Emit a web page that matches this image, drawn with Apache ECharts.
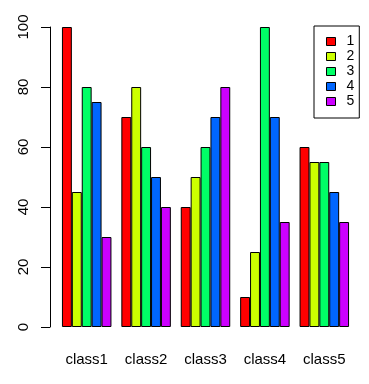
<!DOCTYPE html>
<html>
<head>
<meta charset="utf-8">
<script src="https://cdn.jsdelivr.net/npm/echarts@6/dist/echarts.min.js"></script>
<style>html,body{margin:0;padding:0;background:#fff;}#c{width:369px;height:384px;}</style>
</head>
<body>
<div id="c"></div>
<script>
var categories = ['class1', 'class2', 'class3', 'class4', 'class5'];
var seriesNames = ['1', '2', '3', '4', '5'];
var s1 = [100, 70, 40, 10, 60];
var s2 = [45, 80, 50, 25, 55];
var s3 = [80, 60, 60, 100, 55];
var s4 = [75, 50, 70, 70, 45];
var s5 = [30, 40, 80, 35, 35];
var colors = ['#FF0000', '#CCFF00', '#00FF66', '#0066FF', '#CC00FF'];
var yTicks = [0, 20, 40, 60, 80, 100];

var allData = [s1, s2, s3, s4, s5];
var font = '"Liberation Sans", Arial, sans-serif';
var chart = echarts.init(document.getElementById('c'), null, {renderer: 'canvas'});
chart.setOption({
  animation: false,
  backgroundColor: '#ffffff',
  grid: {left: 57, right: 15, top: 27, bottom: 57, containLabel: false},
  legend: {
    data: seriesNames,
    orient: 'vertical',
    left: 314,
    top: 26,
    icon: 'rect',
    itemWidth: 9,
    itemHeight: 8,
    itemGap: 0,
    padding: [8, 5, 9, 12],
    borderColor: '#000',
    borderWidth: 1,
    textStyle: {fontFamily: font, fontSize: 14, color: '#000', lineHeight: 15, padding: [0, 0, 0, 6]},
    itemStyle: {borderColor: '#000', borderWidth: 1}
  },
  xAxis: {
    type: 'category',
    data: categories,
    boundaryGap: true,
    axisLine: {show: false},
    axisTick: {show: false},
    axisLabel: {fontFamily: font, fontSize: 15, color: '#000', margin: 25}
  },
  yAxis: {
    type: 'value',
    min: yTicks[0],
    max: yTicks[yTicks.length - 1],
    interval: yTicks[1] - yTicks[0],
    offset: 7,
    splitLine: {show: false},
    axisLine: {show: true, lineStyle: {color: '#000', width: 1}},
    axisTick: {show: true, length: 9, lineStyle: {color: '#000', width: 1}},
    axisLabel: {fontFamily: font, fontSize: 15, color: '#000', rotate: 90, margin: 19}
  },
  series: allData.map(function (d, i) {
    return {
      name: seriesNames[i],
      type: 'bar',
      data: d,
      barGap: '0%',
      barCategoryGap: '16.67%',
      itemStyle: {color: colors[i], borderColor: '#000', borderWidth: 1}
    };
  })
});
</script>
</body>
</html>
